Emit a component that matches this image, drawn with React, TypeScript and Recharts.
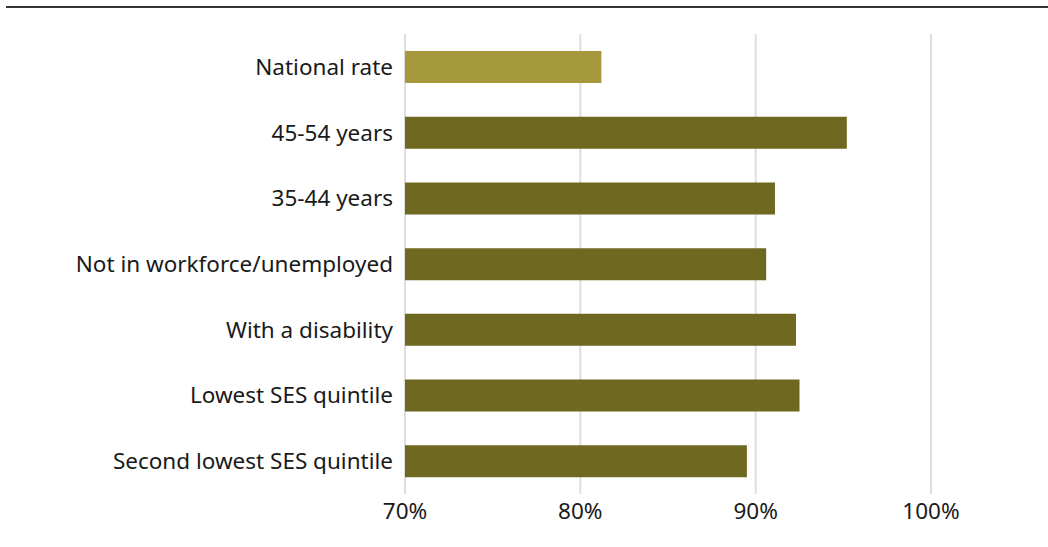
import { BarChart, Bar, XAxis, YAxis, CartesianGrid, Cell } from "recharts";

const categories = [
  "National rate",
  "45-54 years",
  "35-44 years",
  "Not in workforce/unemployed",
  "With a disability",
  "Lowest SES quintile",
  "Second lowest SES quintile",
];
const rates = [81.2, 95.2, 91.1, 90.6, 92.3, 92.5, 89.5];
const xTicks = [70, 80, 90, 100];

const NATIONAL = "#a4983a";
const GROUP = "#6e6820";

const data = categories.map((name, i) => ({ name, value: rates[i] }));

export default function App() {
  return (
    <div
      style={{
        position: "fixed",
        top: 0,
        left: 0,
        width: 1048,
        height: 547,
        background: "#fff",
        fontFamily: "'Noto Sans', sans-serif",
      }}
    >
      <div
        style={{
          position: "absolute",
          top: 6,
          left: 6,
          right: 0,
          borderTop: "2px solid #333",
        }}
      />
      <BarChart
        width={1048}
        height={547}
        data={data}
        layout="vertical"
        margin={{ top: 34, right: 117, bottom: 23, left: 0 }}
      >
        <CartesianGrid horizontal={false} stroke="#dedede" strokeWidth={2} />
        <XAxis
          type="number"
          domain={[70, 100]}
          ticks={xTicks}
          tickFormatter={(v) => `${v}%`}
          axisLine={false}
          tickLine={false}
          tickMargin={3}
          height={30}
          tick={{ fill: "#1a1a1a", fontSize: 22.5 }}
        />
        <YAxis
          type="category"
          dataKey="name"
          width={405}
          axisLine={false}
          tickLine={false}
          tickMargin={6}
          tick={{ fill: "#1a1a1a", fontSize: 22.5 }}
        />
        <Bar dataKey="value" barSize={32} isAnimationActive={false}>
          {data.map((d, i) => (
            <Cell key={d.name} fill={i === 0 ? NATIONAL : GROUP} />
          ))}
        </Bar>
      </BarChart>
    </div>
  );
}
